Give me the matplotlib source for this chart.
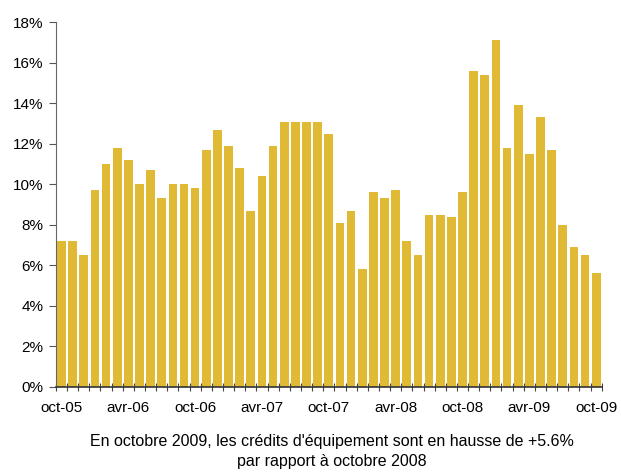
import numpy as np
import matplotlib.pyplot as plt

plt.rcParams['font.family'] = ['Liberation Sans', 'DejaVu Sans']

# glissement annuel des credits d'equipement, oct-05 -> oct-09
valeurs = [7.2, 7.2, 6.5, 9.7, 11.0, 11.8, 11.2, 10.0, 10.7, 9.3,
           10.0, 10.0, 9.8, 11.7, 12.7, 11.9, 10.8, 8.7, 10.4, 11.9,
           13.1, 13.1, 13.1, 13.1, 12.5, 8.1, 8.7, 5.8, 9.6, 9.3,
           9.7, 7.2, 6.5, 8.5, 8.5, 8.4, 9.6, 15.6, 15.4, 17.1,
           11.8, 13.9, 11.5, 13.3, 11.7, 8.0, 6.9, 6.5, 5.6]
etiquettes = ["oct-05", "avr-06", "oct-06", "avr-07", "oct-07",
              "avr-08", "oct-08", "avr-09", "oct-09"]
yticks = [0, 2, 4, 6, 8, 10, 12, 14, 16, 18]

fig = plt.figure(figsize=(6.21, 4.73), dpi=100)
ax = fig.add_axes([0.090, 0.182, 0.879, 0.771])

x = np.arange(len(valeurs))
ax.bar(x, valeurs, width=0.78, color='#E0BA35')

ax.set_xlim(-0.5, len(valeurs) - 0.5)
ax.set_ylim(0, 18)
ax.set_yticks(yticks)
ax.set_yticklabels([str(v) + "%" for v in yticks], fontsize=11)
ax.set_xticks(x[::6])
ax.set_xticklabels(etiquettes, fontsize=11)
ax.set_xticks(np.arange(-0.5, len(valeurs)), minor=True)
ax.tick_params(axis='x', which='major', length=0, pad=10)
ax.tick_params(axis='x', which='minor', direction='inout', length=6, width=0.8, color='#444444')
ax.tick_params(axis='y', direction='out', length=5, width=0.8, color='#555555', pad=4)

for s in ['top', 'right']:
    ax.spines[s].set_visible(False)
ax.spines['left'].set_color('#666666')
ax.spines['bottom'].set_color('#333333')
ax.spines['bottom'].set_linewidth(1.2)

fig.text(0.535, 0.045, "En octobre 2009, les crédits d'équipement sont en hausse de +5.6%\npar rapport à octobre 2008",
         ha='center', va='center', fontsize=11.5, linespacing=1.4)

fig.savefig("out.png", dpi=100)
